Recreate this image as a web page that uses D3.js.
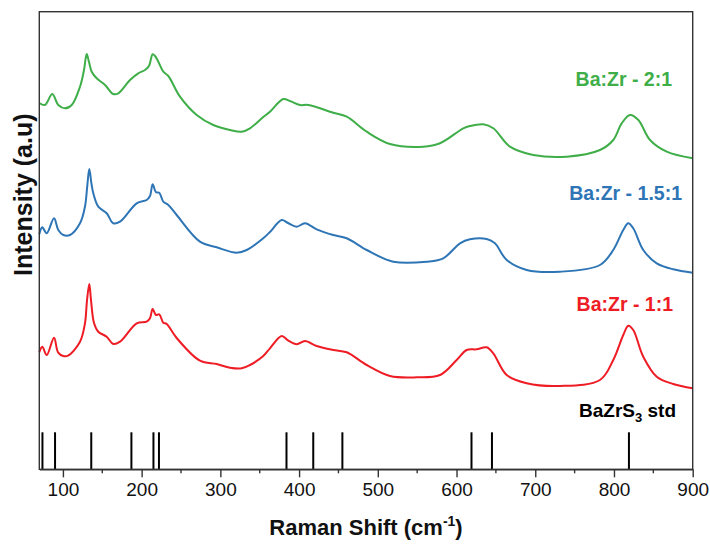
<!DOCTYPE html>
<html>
<head>
<meta charset="utf-8">
<script src="https://cdn.jsdelivr.net/npm/d3@7"></script>
<style>
  body { margin: 0; background: #fff; }
  svg { display: block; font-family: "Liberation Sans", Arial, sans-serif; }
</style>
</head>
<body>
<svg id="chart"></svg>
<script>
const WIDTH = 710;
const HEIGHT = 544;
const MARGIN = { top: 11.7, right: 17.3, bottom: 74.7, left: 39.3 };

// Raman shift (cm-1) vs stacked intensity (a.u.)
const ratio1to1 = [
  [70, 117], [73.8, 122.6], [79.4, 114.3], [88.7, 131.6], [93.8, 117], [100.5, 113.3],
  [106.5, 113.6], [121.7, 127.6], [128, 146], [130.6, 169], [133.5, 185.3], [135.7, 169],
  [139.5, 146.3], [144.9, 137.6], [155.6, 132.6], [164, 125.3], [172.5, 127.6], [193.7, 146],
  [206.4, 147.6], [210.6, 151], [214, 160.3], [218.2, 154.3], [222.4, 155], [227.5, 146.6],
  [231.8, 145.3], [244.5, 131.3], [274.1, 108.6], [295.3, 105.3], [312.2, 101.6], [327.1, 101],
  [337.6, 104.3], [354.5, 113.3], [363, 121], [377.9, 133.3], [385.9, 129], [397, 125],
  [407.5, 128.3], [422.3, 123.3], [443.4, 119.3], [460.5, 117], [485.9, 104.3], [515.5, 93.3],
  [549.4, 92], [579, 94.3], [600.2, 109.3], [612.9, 119.3], [625.6, 120], [638.3, 122],
  [646.7, 116], [663.7, 94.3], [689.1, 86], [731.4, 83.3], [782.2, 89.3], [799.1, 109.3],
  [811.8, 134.3], [818.2, 143.6], [824.5, 139.3], [837.2, 112.6], [854.3, 92.6], [875.3, 85.3],
  [900, 81]
];

const ratio15to1 = [
  [70, 235], [73.8, 242], [79.4, 236], [88.7, 251], [94.1, 239.3], [100.5, 234.3],
  [109, 234.3], [121.7, 246], [128, 262.6], [131, 284], [133.5, 300.3], [136, 287],
  [138.6, 276], [144.9, 262.6], [155.6, 256], [164, 246], [172.5, 247.6], [193.7, 266],
  [206.4, 269.3], [210.6, 273.3], [214, 285], [218.2, 277], [222.4, 276.6], [227.5, 267.6],
  [233.9, 264.3], [244.5, 254.3], [274.1, 227.6], [295.3, 222], [320.7, 216.6], [333.4, 219.3],
  [354.5, 231], [363, 237.3], [377.9, 249.3], [385.9, 246.3], [397, 242.6], [407.5, 246],
  [422.3, 240], [443.4, 234.3], [460.5, 231], [485.9, 219.3], [519.7, 207.6], [562.1, 207.6],
  [583.2, 211], [604.4, 226], [617.1, 230], [638.3, 230.3], [648.8, 226], [663.7, 209.3],
  [689.1, 199.3], [731.4, 197.6], [782.2, 204.3], [799.1, 219.3], [811.8, 239.3], [818.2, 246],
  [824.5, 241], [837.2, 219.3], [854.3, 206], [875.3, 200], [900, 196.6]
];

const ratio2to1 = [
  [70, 366.3], [77.2, 364.3], [86.5, 375.3], [94.1, 364.3], [102.6, 361], [111.2, 364.3],
  [121.7, 382.6], [126.8, 399.3], [130.2, 415.3], [133.1, 407.3], [136.6, 397.6], [142.9, 391],
  [153.5, 384.3], [164, 375.3], [170.4, 376], [185.2, 389.3], [195.7, 396], [204.3, 399.3],
  [209.3, 403.3], [214, 415], [217, 413.3], [221.2, 407.6], [227.5, 397.6], [233.9, 393.3],
  [248.7, 372.6], [269.9, 354.3], [291, 344.3], [312.2, 339.3], [327.1, 337.6], [337.6, 341],
  [354.5, 352.3], [363, 357.6], [379.9, 370.3], [388.4, 368.3], [401.1, 364.3], [411.7, 364.3],
  [443.4, 356.6], [460.5, 352.6], [485.9, 337.6], [515.5, 325.3], [557.8, 322.6], [579, 326],
  [608.6, 341], [617.1, 343.3], [634, 345], [646.7, 341], [667.9, 322.6], [697.5, 314.3],
  [739.9, 312.6], [782.2, 319.3], [799.1, 329.3], [809.8, 346], [820.4, 354.3], [831, 349.3],
  [845.8, 329.3], [867, 317.6], [900, 311]
];

// BaZrS3 reference peak positions (cm-1)
const stdPeaks = [74, 90, 136, 187, 215, 222, 384, 418, 455, 619, 645, 819];
const STD_HEIGHT = 37;

const xTicks = [100, 200, 300, 400, 500, 600, 700, 800, 900];
const xMinorTicks = [150, 250, 350, 450, 550, 650, 750, 850];

const series = [
  { name: "Ba:Zr - 2:1", data: ratio2to1, color: "#3fae49", labelX: 672, labelY: 86 },
  { name: "Ba:Zr - 1.5:1", data: ratio15to1, color: "#2e75b6", labelX: 682, labelY: 200 },
  { name: "Ba:Zr - 1:1", data: ratio1to1, color: "#ee1c24", labelX: 673, labelY: 311 }
];

const innerW = WIDTH - MARGIN.left - MARGIN.right;
const innerH = HEIGHT - MARGIN.top - MARGIN.bottom;

const svg = d3.select("#chart").attr("width", WIDTH).attr("height", HEIGHT);
const g = svg.append("g").attr("transform", `translate(${MARGIN.left},${MARGIN.top})`);

const x = d3.scaleLinear().domain([70, 900]).range([0, innerW]);
const y = d3.scaleLinear().domain([0, innerH]).range([innerH, 0]);

const line = d3
  .line()
  .x((d) => x(d[0]))
  .y((d) => y(d[1]))
  .curve(d3.curveCatmullRom.alpha(0.5));

series.forEach((s) => {
  g.append("path")
    .datum(s.data)
    .attr("fill", "none")
    .attr("stroke", s.color)
    .attr("stroke-width", 2)
    .attr("stroke-linejoin", "round")
    .attr("d", line);

  g.append("text")
    .attr("x", s.labelX - MARGIN.left)
    .attr("y", s.labelY - MARGIN.top)
    .attr("text-anchor", "end")
    .attr("font-size", 19.5)
    .attr("font-weight", "bold")
    .attr("fill", s.color)
    .text(s.name);
});

// reference sticks
g.selectAll(".std")
  .data(stdPeaks)
  .enter()
  .append("line")
  .attr("class", "std")
  .attr("x1", (d) => x(d))
  .attr("x2", (d) => x(d))
  .attr("y1", y(0))
  .attr("y2", y(STD_HEIGHT))
  .attr("stroke", "#000")
  .attr("stroke-width", 2);

const stdLabel = g
  .append("text")
  .attr("x", 676 - MARGIN.left)
  .attr("y", 417 - MARGIN.top)
  .attr("text-anchor", "end")
  .attr("font-size", 19)
  .attr("font-weight", "bold")
  .attr("fill", "#000");
stdLabel.append("tspan").text("BaZrS");
stdLabel.append("tspan").attr("font-size", 13).attr("dy", 5).text("3");
stdLabel.append("tspan").attr("dy", -5).text(" std");

// frame
g.append("rect")
  .attr("width", innerW)
  .attr("height", innerH)
  .attr("fill", "none")
  .attr("stroke", "#333")
  .attr("stroke-width", 1.4);

// bottom axis
const xAxis = g
  .append("g")
  .attr("transform", `translate(0,${innerH})`)
  .call(d3.axisBottom(x).tickValues(xTicks).tickSize(8).tickSizeOuter(0).tickPadding(5));
xAxis.select(".domain").attr("stroke", "#333").attr("stroke-width", 1.4);
xAxis.selectAll(".tick line").attr("stroke", "#333").attr("stroke-width", 1.4);
xAxis
  .selectAll(".tick text")
  .attr("font-size", 19)
  .attr("font-family", "'Liberation Sans', Arial, sans-serif")
  .attr("fill", "#111");

g.append("g")
  .attr("transform", `translate(0,${innerH})`)
  .selectAll("line")
  .data(xMinorTicks)
  .enter()
  .append("line")
  .attr("x1", (d) => x(d))
  .attr("x2", (d) => x(d))
  .attr("y1", 0)
  .attr("y2", 4)
  .attr("stroke", "#333")
  .attr("stroke-width", 1.4);

// axis titles
const xTitle = svg
  .append("text")
  .attr("x", MARGIN.left + innerW / 2)
  .attr("y", 535)
  .attr("text-anchor", "middle")
  .attr("font-size", 22)
  .attr("font-weight", "bold")
  .attr("fill", "#111");
xTitle.append("tspan").text("Raman Shift (cm");
xTitle.append("tspan").attr("font-size", 14).attr("dy", -9).text("-1");
xTitle.append("tspan").attr("dy", 9).text(")");

svg
  .append("text")
  .attr("transform", `translate(32,${MARGIN.top + 183}) rotate(-90)`)
  .attr("text-anchor", "middle")
  .attr("font-size", 25)
  .attr("font-weight", "bold")
  .attr("fill", "#111")
  .text("Intensity (a.u)");
</script>
</body>
</html>
